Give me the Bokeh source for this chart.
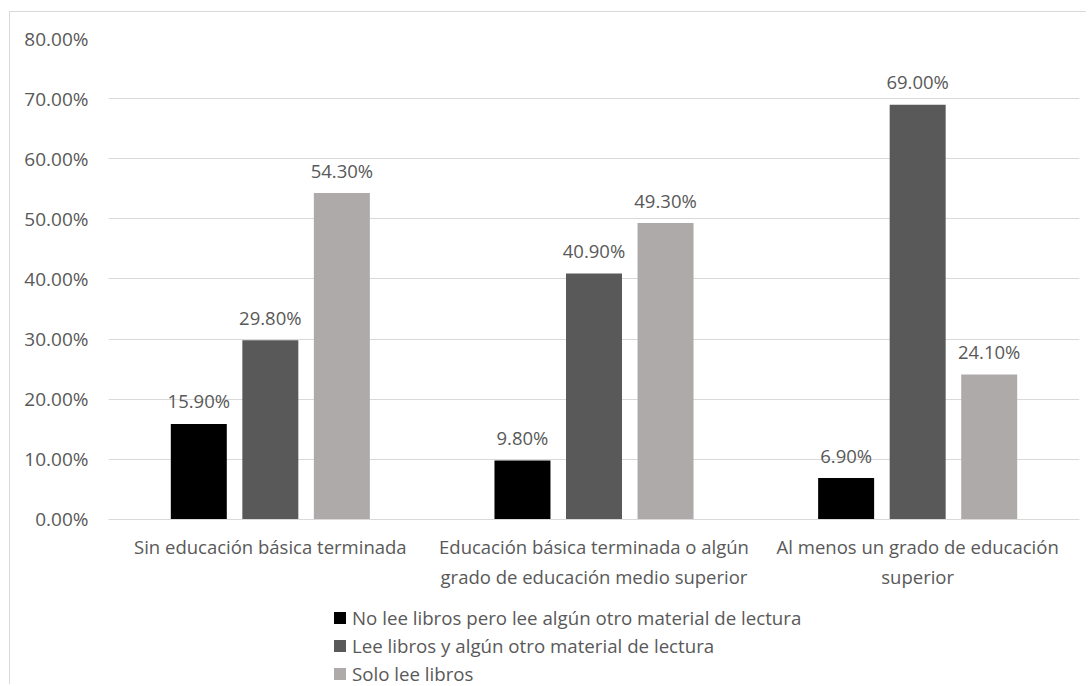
from bokeh.plotting import figure
from bokeh.models import (FactorRange, Range1d, FixedTicker, PrintfTickFormatter,
                          ColumnDataSource, LabelSet, Legend, LegendItem)
from bokeh.core.properties import value
from bokeh.transform import dodge
from bokeh.embed import file_html
from bokeh.resources import INLINE

categories = [
    "Sin educación básica terminada",
    "Educación básica terminada o algún\ngrado de educación medio superior",
    "Al menos un grado de educación\nsuperior",
]
series_names = [
    "No lee libros pero lee algún otro material de lectura",
    "Lee libros y algún otro material de lectura",
    "Solo lee libros",
]
no_lee_libros = [15.9, 9.8, 6.9]
lee_libros_y_otro = [29.8, 40.9, 69.0]
solo_libros = [54.3, 49.3, 24.1]
y_ticks = [0, 10, 20, 30, 40, 50, 60, 70, 80]

colors = ["#000000", "#595959", "#AEAAAA"]
offsets = [-0.221, 0.0, 0.221]
FONT = "Open Sans"
TXT = "#595959"

# frame extends below the zero line so the category labels and legend sit inside it
p = figure(x_range=FactorRange(*categories), y_range=Range1d(-27.61, 80),
           width=1077, height=673, output_backend="svg", toolbar_location=None,
           min_border_left=98, min_border_right=8, min_border_top=26,
           min_border_bottom=0)
p.styles = {"margin-left": "9px", "margin-top": "11px",
            "border-left": "1px solid #d9d9d9", "border-top": "1px solid #d9d9d9"}
p.outline_line_color = None
p.background_fill_color = "white"
p.border_fill_color = "white"
p.xgrid.grid_line_color = None
p.ygrid.grid_line_color = "#D9D9D9"
p.ygrid.grid_line_width = 1

p.yaxis.ticker = FixedTicker(ticks=y_ticks)
p.yaxis.formatter = PrintfTickFormatter(format="%.2f%%")
p.yaxis.axis_line_color = None
p.yaxis.major_tick_line_color = None
p.yaxis.minor_tick_line_color = None
p.yaxis.major_tick_out = 0
p.yaxis.major_label_standoff = 20
p.yaxis.major_label_text_font = FONT
p.yaxis.major_label_text_font_size = "19px"
p.yaxis.major_label_text_color = TXT

p.xaxis.fixed_location = 0
p.xaxis.axis_line_color = "#D9D9D9"
p.xaxis.major_tick_line_color = None
p.xaxis.major_tick_out = 0
p.xaxis.major_tick_in = 0
p.xaxis.major_label_standoff = 15
p.xaxis.major_label_text_font = FONT
p.xaxis.major_label_text_font_size = "18.5px"
p.xaxis.major_label_text_color = TXT

src = ColumnDataSource(dict(cat=categories, s0=no_lee_libros, s1=lee_libros_y_otro, s2=solo_libros,
                            l0=["%.2f%%" % v for v in no_lee_libros],
                            l1=["%.2f%%" % v for v in lee_libros_y_otro],
                            l2=["%.2f%%" % v for v in solo_libros]))

items = []
for i, (col, off, name) in enumerate(zip(colors, offsets, series_names)):
    r = p.vbar(x=dodge("cat", off, range=p.x_range), top="s%d" % i, width=0.173,
               source=src, fill_color=col, line_color=None)
    items.append(LegendItem(label=name, renderers=[r]))
    lbl = LabelSet(x=dodge("cat", off, range=p.x_range), y="s%d" % i, text="l%d" % i,
                   source=src, text_align="center", text_baseline="middle", y_offset=23,
                   text_font=value(FONT), text_font_size=value("18.5px"),
                   text_color="#595959")
    p.add_layout(lbl)

legend = Legend(items=items, location=(224, -2), orientation="vertical",
                glyph_width=15, glyph_height=15, label_height=28,
                spacing=0, padding=0, margin=0, label_standoff=5,
                label_text_font=FONT, label_text_font_size="18.7px", label_text_color=TXT,
                border_line_color=None, background_fill_alpha=0)
p.add_layout(legend, "center")

open("out.html", "w").write(file_html(p, INLINE))
